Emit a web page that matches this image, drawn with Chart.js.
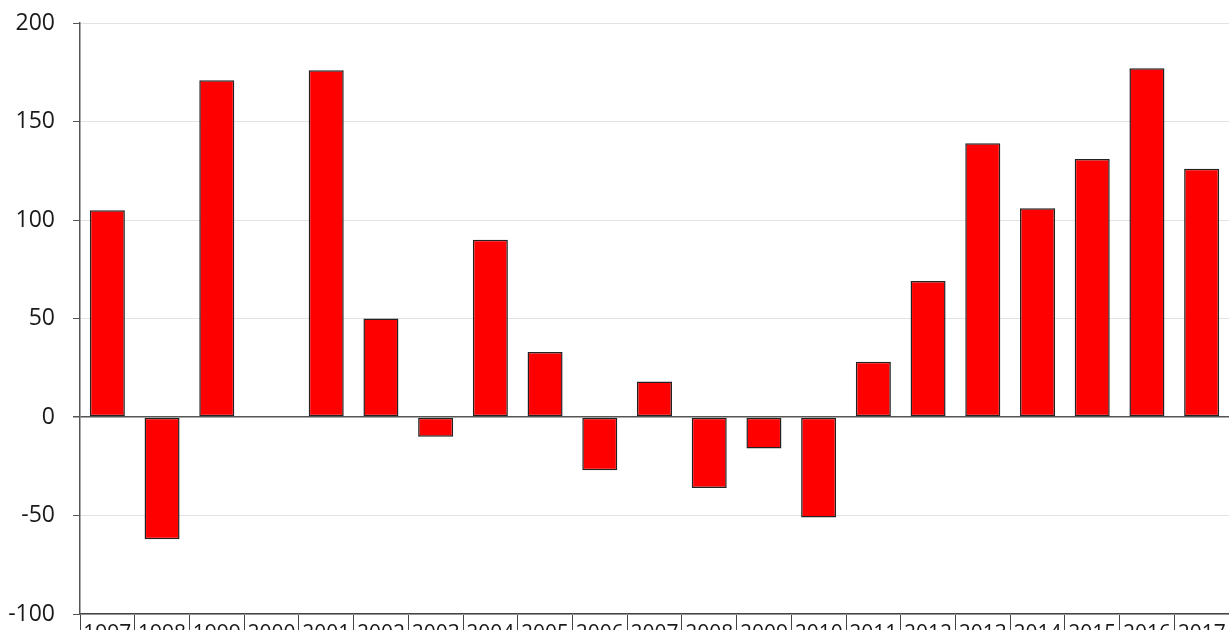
<!DOCTYPE html>
<html>
<head>
<meta charset="utf-8">
<script src="https://cdn.jsdelivr.net/npm/chart.js@4/dist/chart.umd.min.js"></script>
<style>
  html, body { margin: 0; padding: 0; background: #fff; }
  #wrap { width: 1229px; height: 630px; }
</style>
</head>
<body>
<div id="wrap"><canvas id="myChart" width="1229" height="630"></canvas></div>
<script>
// years on the x axis
const years = ['1997', '1998', '1999', '2000', '2001', '2002', '2003', '2004', '2005', '2006', '2007',
               '2008', '2009', '2010', '2011', '2012', '2013', '2014', '2015', '2016', '2017'];

// yearly values
const values = [105, -62, 171, 0, 176, 50, -10, 90, 33, -27, 18,
                -36, -16, -51, 28, 69, 139, 106, 131, 177, 126];

// y axis range
const yMin = -100;
const yMax = 200;
const yStep = 50;

const ctx = document.getElementById('myChart').getContext('2d');
const myChart = new Chart(ctx, {
    type: 'bar',
    data: {
        labels: years,
        datasets: [
            {
                data: values,
                backgroundColor: '#ff0000',
                borderColor: '#222222',
                borderWidth: 1.5,
                borderSkipped: false,
                categoryPercentage: 1,
                barPercentage: 0.64,
            },
        ],
    },
    options: {
        responsive: false,
        animation: false,
        layout: { padding: { top: 23, right: 0, left: 0, bottom: 0 } },
        plugins: {
            legend: { display: false },
            tooltip: { enabled: false },
        },
        scales: {
            x: {
                offset: true,
                grid: {
                    offset: true,
                    drawOnChartArea: false,
                    drawTicks: true,
                    tickLength: 18,
                    color: '#444444',
                    lineWidth: 1,
                },
                border: { color: '#444444', width: 1.5 },
                ticks: {
                    color: '#1a1a1a',
                    font: { family: 'Open Sans', size: 21 },
                    padding: -11,
                    maxRotation: 0,
                    autoSkip: false,
                },
                afterFit: (scale) => {
                    scale.height = 16;
                    scale.paddingLeft = 0;
                    scale.paddingRight = 0;
                },
            },
            y: {
                min: yMin,
                max: yMax,
                grid: {
                    color: (c) => (c.tick && c.tick.value === 0 ? '#555555' : '#e2e2e2'),
                    lineWidth: (c) => (c.tick && c.tick.value === 0 ? 1.5 : 1),
                    tickColor: '#555555',
                    tickLength: 7,
                },
                border: { color: '#555555', width: 1.5 },
                ticks: {
                    stepSize: yStep,
                    color: '#1a1a1a',
                    font: { family: 'Open Sans', size: 23 },
                    padding: 18,
                },
                afterFit: (scale) => {
                    scale.width = 80;
                    scale.paddingTop = 0;
                    scale.paddingBottom = 0;
                },
            },
        },
    },
});
</script>
</body>
</html>
